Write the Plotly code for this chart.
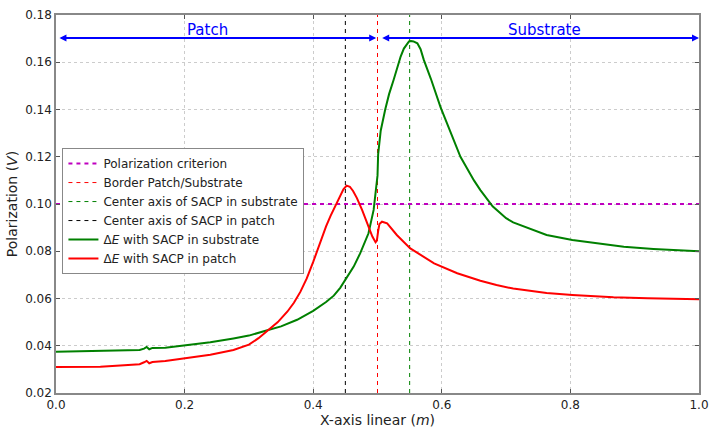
import plotly.graph_objects as go

# ---- data ----
x_sub = [0, 0.03, 0.069, 0.1, 0.13, 0.137, 0.141, 0.145, 0.15, 0.17, 0.202, 0.24, 0.276, 0.30, 0.33,
         0.35, 0.375, 0.40, 0.42, 0.432, 0.442, 0.452, 0.463, 0.473, 0.486, 0.494, 0.499, 0.500, 0.501,
         0.503, 0.505, 0.512, 0.518, 0.525, 0.530, 0.536, 0.541, 0.546, 0.549, 0.552, 0.556, 0.562,
         0.567, 0.572, 0.583, 0.598, 0.614, 0.629, 0.650, 0.66, 0.679, 0.69, 0.70, 0.711, 0.737, 0.763,
         0.803, 0.841, 0.883, 0.929, 0.971, 1.0]
y_sub = [0.0375, 0.0376, 0.0378, 0.0380, 0.0382, 0.0388, 0.0395, 0.0385, 0.0391, 0.0392, 0.0403, 0.0415,
         0.0431, 0.0443, 0.0467, 0.0482, 0.0510, 0.0548, 0.0585, 0.0612, 0.0645, 0.0688, 0.0735, 0.0791,
         0.0876, 0.0975, 0.1088, 0.1120, 0.1210, 0.1270, 0.1310, 0.1400, 0.1465, 0.1525, 0.1570, 0.1624,
         0.1658, 0.1680, 0.1688, 0.1690, 0.1688, 0.1680, 0.1655, 0.1610, 0.1530, 0.1410, 0.1300, 0.1200,
         0.1100, 0.1059, 0.0990, 0.0962, 0.0940, 0.0922, 0.0895, 0.0869, 0.0848, 0.0834, 0.0819, 0.0810,
         0.0805, 0.0800]

x_patch = [0, 0.03, 0.069, 0.1, 0.13, 0.137, 0.141, 0.145, 0.15, 0.17, 0.202, 0.24, 0.276, 0.30, 0.315,
           0.33, 0.345, 0.36, 0.37, 0.38, 0.39, 0.40, 0.411, 0.42, 0.427, 0.436, 0.442, 0.447, 0.452,
           0.457, 0.462, 0.468, 0.476, 0.484, 0.492, 0.497, 0.499, 0.501, 0.503, 0.507, 0.515, 0.530,
           0.551, 0.588, 0.624, 0.66, 0.685, 0.711, 0.737, 0.763, 0.803, 0.867, 0.92, 0.971, 1.0]
y_patch = [0.0310, 0.0311, 0.0311, 0.0316, 0.0322, 0.0330, 0.0336, 0.0326, 0.0331, 0.0335, 0.0347, 0.0362,
           0.0382, 0.0405, 0.0432, 0.0467, 0.0500, 0.0545, 0.0582, 0.0628, 0.0685, 0.0755, 0.0840, 0.0905,
           0.0950, 0.1000, 0.1030, 0.1062, 0.1078, 0.1073, 0.1055, 0.1025, 0.0975, 0.0918, 0.0862, 0.0838,
           0.0845, 0.0885, 0.0915, 0.0925, 0.0918, 0.0869, 0.0812, 0.0749, 0.0707, 0.0675, 0.0657, 0.0642,
           0.0631, 0.0623, 0.0615, 0.0605, 0.0601, 0.0597, 0.0597]

criterion = 0.10
x_border = 0.50
x_center_sub = 0.55
x_center_patch = 0.45
y_range = [0.02, 0.18]
x_range = [0.0, 1.0]
x_ticks = [0.0, 0.2, 0.4, 0.6, 0.8, 1.0]
x_ticklabels = ["0.0", "0.2", "0.4", "0.6", "0.8", "1.0"]
y_ticks = [0.02, 0.04, 0.06, 0.08, 0.10, 0.12, 0.14, 0.16, 0.18]
y_ticklabels = ["0.02", "0.04", "0.06", "0.08", "0.10", "0.12", "0.14", "0.16", "0.18"]
arrow_y = 0.1703
patch_span = [0.003, 0.498]
sub_span = [0.505, 1.0]
region_labels = ["Patch", "Substrate"]
region_label_x = [0.2, 0.7]

fig = go.Figure()
fig.add_trace(go.Scatter(x=x_range, y=[criterion, criterion], mode="lines",
                         line=dict(color="#bf00bf", width=2, dash="4px,4px"),
                         name="Polarization criterion"))
fig.add_trace(go.Scatter(x=[x_border, x_border], y=y_range, mode="lines",
                         line=dict(color="#ff0000", width=1, dash="4px,4px"),
                         name="Border Patch/Substrate"))
fig.add_trace(go.Scatter(x=[x_center_sub, x_center_sub], y=y_range, mode="lines",
                         line=dict(color="#008000", width=1, dash="4px,4px"),
                         name="Center axis of SACP in substrate"))
fig.add_trace(go.Scatter(x=[x_center_patch, x_center_patch], y=y_range, mode="lines",
                         line=dict(color="#000000", width=1, dash="4px,4px"),
                         name="Center axis of SACP in patch"))
fig.add_trace(go.Scatter(x=x_sub, y=y_sub, mode="lines",
                         line=dict(color="#008000", width=2),
                         name="Δ<i>E</i> with SACP in substrate"))
fig.add_trace(go.Scatter(x=x_patch, y=y_patch, mode="lines",
                         line=dict(color="#ff0000", width=2),
                         name="Δ<i>E</i> with SACP in patch"))

for span, lab, lx in zip([patch_span, sub_span], region_labels, region_label_x):
    fig.add_annotation(x=span[1], y=arrow_y, ax=span[0], ay=arrow_y, xref="x", yref="y",
                       axref="x", ayref="y", text="", showarrow=True, arrowside="end+start",
                       arrowhead=2, arrowsize=0.7, arrowwidth=2, arrowcolor="#0000ff")
    fig.add_annotation(x=lx, y=arrow_y, xref="x", yref="y", text=lab, showarrow=False,
                       xanchor="left", yanchor="bottom", yshift=-3,
                       font=dict(color="#0000ff", size=15, family="DejaVu Sans"))

axis_common = dict(showline=True, linecolor="#888888", linewidth=1.5, mirror="ticks",
                   ticks="inside", ticklen=4, tickcolor="#555555", showgrid=True,
                   gridcolor="#cccccc", griddash="dot", gridwidth=1, zeroline=False,
                   automargin=False,
                   tickfont=dict(size=12, color="#222222", family="DejaVu Sans"))
fig.update_xaxes(range=x_range, tickvals=x_ticks, ticktext=x_ticklabels,
                 title=dict(text="X-axis linear (<i>m</i>)", font=dict(size=14, color="#222222"),
                            standoff=4), **axis_common)
fig.update_yaxes(range=y_range, tickvals=y_ticks, ticktext=y_ticklabels,
                 title=dict(text="Polarization (<i>V</i>)", font=dict(size=14, color="#222222"),
                            standoff=4), **axis_common)

fig.update_layout(
    width=711, height=428,
    margin=dict(l=56, r=12, t=15, b=35),
    paper_bgcolor="white", plot_bgcolor="white",
    font=dict(family="DejaVu Sans", color="#222222"),
    showlegend=True,
    legend=dict(x=0.01, y=0.648, xanchor="left", yanchor="top", bgcolor="white",
                bordercolor="#888888", borderwidth=1, font=dict(size=12, color="#222222"),
                tracegroupgap=0, itemwidth=30),
)

fig.write_html("out.html", config={"displayModeBar": False},
               post_script="document.body.style.margin='0';document.body.style.overflow='hidden';")
